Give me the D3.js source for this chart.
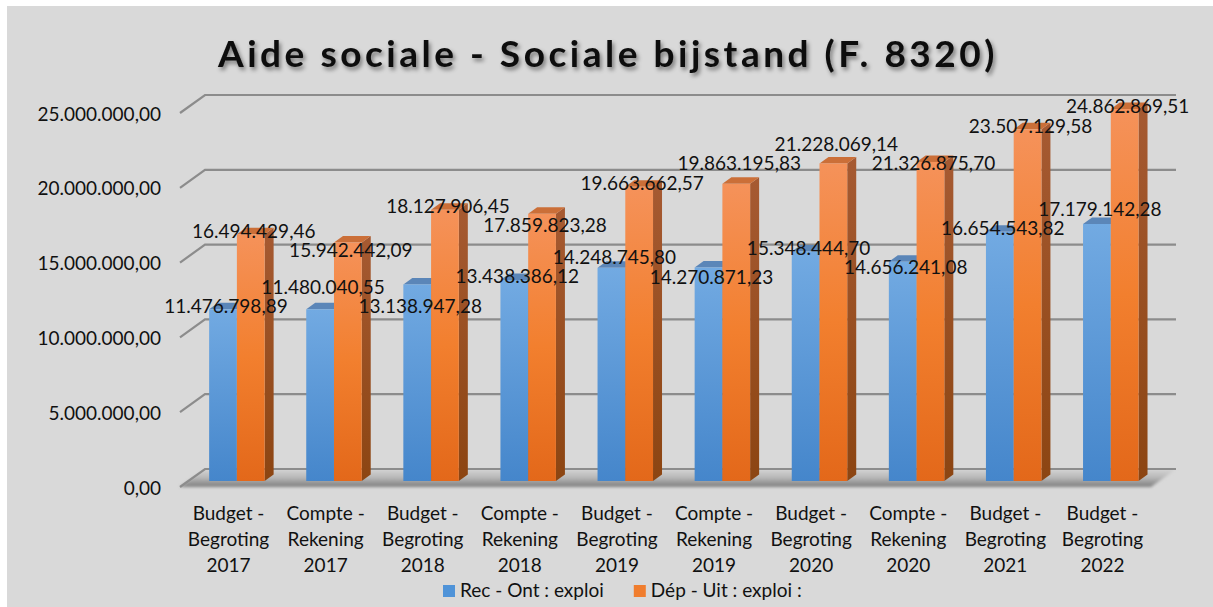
<!DOCTYPE html>
<html><head><meta charset="utf-8">
<script src="https://cdn.jsdelivr.net/npm/d3@7"></script>
<style>
body{margin:0;background:#ffffff;}
svg{display:block;font-family:Lato, "Open Sans", sans-serif;}
</style>
</head><body>
<svg id="chart" width="1213" height="607"></svg>
<script>
// ---------- DATA ----------
const title = "Aide sociale - Sociale bijstand (F. 8320)";
const categories = [
  "Budget - Begroting 2017","Compte - Rekening 2017","Budget - Begroting 2018",
  "Compte - Rekening 2018","Budget - Begroting 2019","Compte - Rekening 2019",
  "Budget - Begroting 2020","Compte - Rekening 2020","Budget - Begroting 2021",
  "Budget - Begroting 2022"
];
const seriesNames = ["Rec - Ont : exploi", "Dép - Uit : exploi :"];
const recValues = [11476798.89, 11480040.55, 13138947.28, 13438386.12, 14248745.80,
                   14270871.23, 15348444.70, 14656241.08, 16654543.82, 17179142.28];
const depValues = [16494429.46, 15942442.09, 18127906.45, 17859823.28, 19663662.57,
                   19863195.83, 21228069.14, 21326875.70, 23507129.58, 24862869.51];
const yTicks = [0, 5000000, 10000000, 15000000, 20000000, 25000000];

// ---------- LAYOUT ----------
const svg = d3.select("#chart");
const W = 1213, H = 607;
const front = {left:180, right:1151, bottom:487, top:113};
const depth = {dx:25, dy:-18};      // back wall offset
const barDepthStart = 1/3, barDepthSize = 0.36;
const gapRatio = 1.5;

const locale = d3.formatLocale({decimal:",", thousands:".", grouping:[3], currency:["",""]});
const fmt = locale.format(",.2f");

const y = d3.scaleLinear().domain([0, 25000000]).range([front.bottom, front.top]);
const x = d3.scaleBand().domain(categories).range([front.left, front.right]).padding(0);
const bw = x.bandwidth() / (2 + gapRatio);
const groupOffset = (x.bandwidth() - 2*bw) / 2;
const series = [
  {name:seriesNames[0], values:recValues, key:"rec"},
  {name:seriesNames[1], values:depValues, key:"dep"}
];

// ---------- DEFS ----------
const defs = svg.append("defs");
function grad(id, stops){
  const g = defs.append("linearGradient").attr("id", id)
    .attr("x1",0).attr("y1",0).attr("x2",0).attr("y2",1);
  stops.forEach(s => g.append("stop").attr("offset", s[0]).attr("stop-color", s[1]));
}
grad("recFront", [[0,"#72aae2"],[1,"#4586cb"]]);
grad("depFront", [[0,"#f5925a"],[0.5,"#f27f2e"],[1,"#e3681a"]]);
grad("recSide",  [[0,"#4f7db0"],[1,"#2f5f95"]]);
grad("depSide",  [[0,"#a65a32"],[1,"#8c4512"]]);
grad("floorGrad",[[0,"#d4d4d4"],[0.45,"#bababa"],[1,"#7d7d7d"]]);
const fBlur = defs.append("filter").attr("id","blur").attr("x","-5%").attr("y","-50%").attr("width","110%").attr("height","200%");
fBlur.append("feGaussianBlur").attr("stdDeviation", 1.6);
const fShadow = defs.append("filter").attr("id","tshadow").attr("x","-5%").attr("y","-30%").attr("width","110%").attr("height","160%");
fShadow.append("feDropShadow").attr("dx",2).attr("dy",3).attr("stdDeviation",2)
  .attr("flood-color","#000").attr("flood-opacity",0.45);

// background panel
svg.append("rect").attr("x",7).attr("y",6).attr("width",W-7).attr("height",H-6).attr("fill","#d9d9d9");

// ---------- FLOOR ----------
const y0 = y(0);
svg.append("polygon")
  .attr("points", [[front.left,y0],[front.left+depth.dx,y0+depth.dy],
                   [front.right+depth.dx,y0+depth.dy],[front.right,y0]].map(p=>p.join(",")).join(" "))
  .attr("fill","url(#floorGrad)").attr("filter","url(#blur)");

// ---------- GRIDLINES ----------
const gridG = svg.append("g");
yTicks.forEach(t => {
  const yf = y(t), yb = y(t) + depth.dy;
  gridG.append("polyline")
    .attr("points", `${front.left},${yf} ${front.left+depth.dx},${yb} ${front.right+depth.dx},${yb}`)
    .attr("fill","none").attr("stroke","#8c8c8c").attr("stroke-width",2.2);
});

// ---------- BARS ----------
const barsG = svg.append("g");
const labelData = [];
categories.forEach((c, i) => {
  series.forEach((s, si) => {
    const v = s.values[i];
    const x0 = x(c) + barDepthStart*depth.dx + groupOffset + si*bw;
    const yt = y(v) + barDepthStart*depth.dy;
    const yb = y(0) + barDepthStart*depth.dy;
    const ddx = barDepthSize*depth.dx, ddy = barDepthSize*depth.dy;
    const g = barsG.append("g");
    g.append("polygon")
      .attr("points", `${x0+bw},${yt} ${x0+bw+ddx},${yt+ddy} ${x0+bw+ddx},${yb+ddy} ${x0+bw},${yb}`)
      .attr("fill", `url(#${s.key}Side)`);
    g.append("polygon")
      .attr("points", `${x0},${yt} ${x0+ddx},${yt+ddy} ${x0+bw+ddx},${yt+ddy} ${x0+bw},${yt}`)
      .attr("fill", s.key === "rec" ? "#5b86b8" : "#cb6f38");
    g.append("rect").attr("x", x0).attr("y", yt).attr("width", bw).attr("height", yb - yt)
      .attr("fill", `url(#${s.key}Front)`);
    labelData.push({x: x0 + bw/2 + 3, y: yt - 4, text: fmt(v)});
  });
});

// ---------- DATA LABELS (greedy collision avoidance) ----------
const labels = svg.append("g").selectAll("text").data(labelData).join("text")
  .attr("x", d => d.x).attr("y", d => d.y)
  .attr("text-anchor","middle").attr("dominant-baseline","central")
  .attr("font-size", 19).attr("fill","#111")
  .text(d => d.text);
labels.each(function(d){ d.w = this.getComputedTextLength(); });
const placed = [];
const lh = 19;
labelData.forEach(d => {
  const hits = yy => placed.some(p => Math.abs(p.x - d.x) < (p.w + d.w)/2 + 1 && Math.abs(p.y - yy) < lh);
  let best = d.y;
  for (let k = 0; k < 60; k++) {
    const off = (k % 2 === 0 ? -1 : 1) * Math.ceil(k/2) * 1;
    const cand = d.y + off;
    if (!hits(cand)) { best = cand; break; }
  }
  d.y = best;
  placed.push(d);
});
labels.attr("y", d => d.y);

// ---------- Y AXIS LABELS ----------
svg.append("g").selectAll("text").data(yTicks).join("text")
  .attr("x", 161).attr("y", d => y(d))
  .attr("text-anchor","end").attr("dominant-baseline","central")
  .attr("font-size", 19).attr("fill","#111")
  .text(d => fmt(d));

// ---------- CATEGORY LABELS ----------
const catG = svg.append("g");
categories.forEach(c => {
  const m = c.match(/^(.*? -) (\S+) (\S+)$/);
  const lines = m ? [m[1], m[2], m[3]] : [c];
  const t = catG.append("text").attr("text-anchor","middle").attr("font-size",19).attr("fill","#111");
  lines.forEach((ln, k) => {
    t.append("tspan").attr("x", x(c) + x.bandwidth()/2).attr("y", 520 + k*26).text(ln);
  });
});

// ---------- LEGEND ----------
const legG = svg.append("g");
let lx = 443;
const legendColors = ["#4f93d8", "#f07d2e"];
series.forEach((s, si) => {
  legG.append("rect").attr("x", lx).attr("y", 585).attr("width", 12).attr("height", 12).attr("fill", legendColors[si]);
  const t = legG.append("text").attr("x", lx + 17).attr("y", 597).attr("font-size", 19).attr("fill","#111").text(s.name);
  lx += 17 + t.node().getComputedTextLength() + 30;
});

// ---------- TITLE ----------
const tt = svg.append("text").attr("x", 608).attr("y", 67).attr("text-anchor","middle")
  .attr("font-size", 37).attr("font-weight", 700).attr("fill","#0d0d0d")
  .attr("filter","url(#tshadow)").text(title);
const natural = tt.node().getComputedTextLength();
const targetW = 780;
tt.attr("letter-spacing", ((targetW - natural) / title.length).toFixed(2) + "px");
</script>
</body></html>
